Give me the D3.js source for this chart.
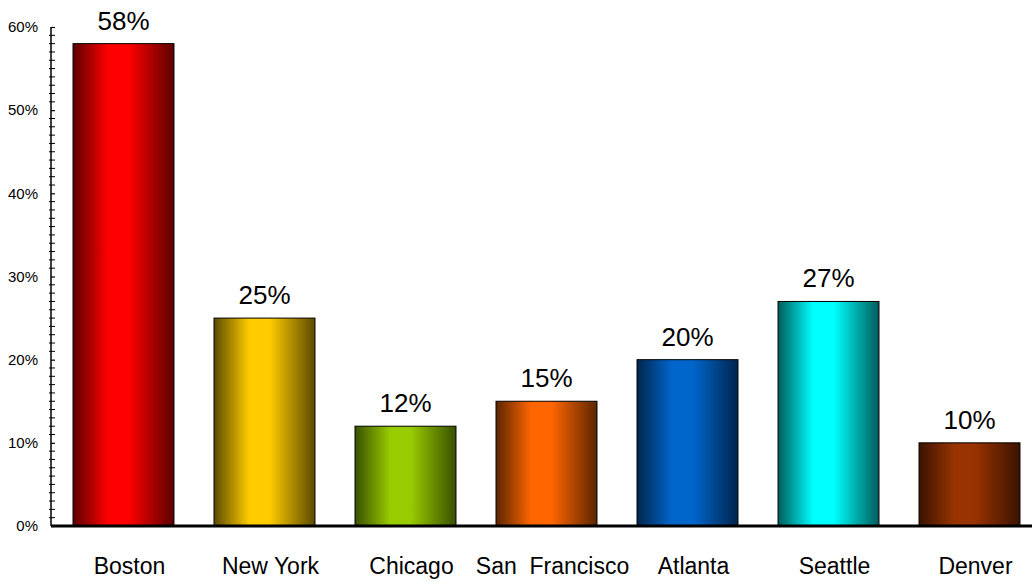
<!DOCTYPE html>
<html>
<head>
<meta charset="utf-8">
<script src="https://cdn.jsdelivr.net/npm/d3@7/dist/d3.min.js"></script>
<style>
  body { margin: 0; background: #fff; }
  text { font-family: "Liberation Sans", Arial, sans-serif; fill: #000; }
</style>
</head>
<body>
<svg id="chart" width="1032" height="582"></svg>
<script>
const cities = ["Boston", "New York", "Chicago", "San  Francisco", "Atlanta", "Seattle", "Denver"];
const shares = [58, 25, 12, 15, 20, 27, 10];
const brightColors = ["#ff0000", "#ffcc00", "#99cc00", "#ff6600", "#0066cc", "#00ffff", "#993300"];
const darkColors = ["#5c0000", "#5c4a00", "#385000", "#5c2500", "#00254d", "#005c5c", "#3a1300"];
const yTicks = [0, 10, 20, 30, 40, 50, 60];

const svg = d3.select("#chart");
const x0 = 51, yTop = 27, yBase = 526;

const x = d3.scaleBand().domain(cities).range([53, 1040])
  .paddingInner(0.284).paddingOuter(0.142);
const y = d3.scaleLinear().domain([0, 60]).range([yBase, yTop]);

// gradients
const defs = svg.append("defs");
cities.forEach((c, i) => {
  const g = defs.append("linearGradient").attr("id", "grad" + i)
    .attr("x1", "0%").attr("x2", "100%").attr("y1", "0%").attr("y2", "0%");
  g.append("stop").attr("offset", "0%").attr("stop-color", darkColors[i]);
  g.append("stop").attr("offset", "35%").attr("stop-color", brightColors[i]);
  g.append("stop").attr("offset", "55%").attr("stop-color", brightColors[i]);
  g.append("stop").attr("offset", "100%").attr("stop-color", darkColors[i]);
});

// minor ticks
const minor = d3.range(0, 61, 1).filter(v => v % 10 !== 0);
svg.append("g").selectAll("line").data(minor).join("line")
  .attr("x1", x0 - 2).attr("x2", x0 + 4)
  .attr("y1", d => y(d)).attr("y2", d => y(d))
  .attr("stroke", "#000").attr("stroke-width", 1);

// y axis
const yAxis = d3.axisLeft(y).tickValues(yTicks).tickFormat(d => d + "%").tickSize(4).tickPadding(9);
const ga = svg.append("g").attr("transform", `translate(${x0},0)`).call(yAxis);
ga.select(".domain").remove();
ga.selectAll(".tick line").attr("x2", 4).attr("stroke", "#000").attr("stroke-width", 1.2);
ga.selectAll(".tick text").attr("font-size", 15).attr("font-family", "Liberation Sans, Arial, sans-serif").attr("fill", "#000");
svg.append("line").attr("x1", x0).attr("x2", x0).attr("y1", yTop).attr("y2", yBase)
  .attr("stroke", "#000").attr("stroke-width", 1.5);

// bars
svg.append("g").selectAll("rect").data(shares).join("rect")
  .attr("x", (d, i) => x(cities[i]))
  .attr("y", d => y(d))
  .attr("width", x.bandwidth())
  .attr("height", d => yBase - y(d))
  .attr("fill", (d, i) => `url(#grad${i})`)
  .attr("stroke", "#000").attr("stroke-width", 1);

// value labels
svg.append("g").selectAll("text").data(shares).join("text")
  .attr("x", (d, i) => x(cities[i]) + x.bandwidth() / 2)
  .attr("y", d => y(d) - 14)
  .attr("text-anchor", "middle").attr("font-size", 26)
  .text(d => d + "%");

// baseline
svg.append("line").attr("x1", x0).attr("x2", 1032).attr("y1", yBase).attr("y2", yBase)
  .attr("stroke", "#000").attr("stroke-width", 3);

// category labels (sit a little right of bar centres, as in the original)
svg.append("g").selectAll("text").data(cities).join("text")
  .attr("x", d => x(d) + x.bandwidth() / 2 + 6)
  .attr("y", 574)
  .attr("text-anchor", "middle").attr("font-size", 23)
  .attr("xml:space", "preserve").style("white-space", "pre")
  .text(d => d);
</script>
</body>
</html>
